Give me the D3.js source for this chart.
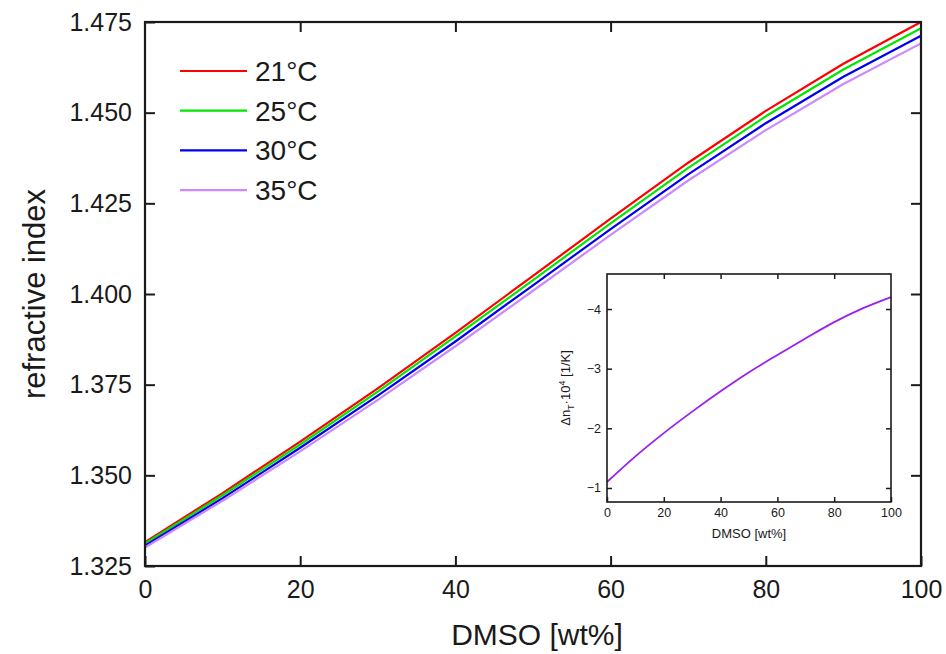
<!DOCTYPE html>
<html>
<head>
<meta charset="utf-8">
<script src="https://cdn.jsdelivr.net/npm/d3@7"></script>
<style>
  html, body { margin: 0; padding: 0; background: #fff; }
  svg { display: block; font-family: "Liberation Sans", Arial, sans-serif; }
</style>
</head>
<body>
<svg id="chart" width="946" height="654"></svg>
<script>
// DMSO content (wt%) at which the refractive index was evaluated
const dmso = [0, 10, 20, 30, 40, 50, 60, 70, 80, 90, 100];

// refractive index for each temperature
const n21 = [1.3316, 1.3451, 1.3593, 1.3740, 1.3893, 1.4050, 1.4208, 1.4362, 1.4505, 1.4635, 1.4750];
const n25 = [1.3312, 1.3445, 1.3585, 1.3731, 1.3883, 1.4038, 1.4195, 1.4348, 1.4490, 1.4619, 1.4733];
const n30 = [1.3306, 1.3437, 1.3576, 1.3720, 1.3869, 1.4024, 1.4179, 1.4330, 1.4471, 1.4599, 1.4712];
const n35 = [1.3301, 1.3430, 1.3566, 1.3708, 1.3856, 1.4009, 1.4163, 1.4313, 1.4452, 1.4579, 1.4691];

const seriesNames = ["21°C", "25°C", "30°C", "35°C"];
const seriesColors = ["#ff0000", "#00e600", "#0000ee", "#cc88ff"];

// thermo-optic coefficient dn/dT in units of 1e-4 1/K
const dnT = [-1.10, -1.53, -1.92, -2.28, -2.62, -2.94, -3.23, -3.51, -3.78, -4.01, -4.20];

// tick labels
const xTicks = [0, 20, 40, 60, 80, 100];
const yTicks = [1.325, 1.350, 1.375, 1.400, 1.425, 1.450, 1.475];
const insetYTicks = [-1, -2, -3, -4];

const svg = d3.select("#chart");
const ink = "#1a1a1a";

// ---------- main panel ----------
const M = { left: 145, right: 921, top: 22, bottom: 566 };
const x = d3.scaleLinear().domain([0, 100]).range([M.left, M.right]);
const y = d3.scaleLinear().domain([1.325, 1.475]).range([M.bottom, M.top]);

const main = svg.append("g");

const line = d3.line().x((d, i) => x(dmso[i])).y(d => y(d));
[n21, n25, n30, n35].forEach((s, k) => {
  main.append("path")
    .datum(s)
    .attr("d", line)
    .attr("fill", "none")
    .attr("stroke", seriesColors[k])
    .attr("stroke-width", 2.2)
    .attr("stroke-linejoin", "round");
});

// axes with inward ticks on all four sides
const tickLen = 10;
const bottomAxis = d3.axisBottom(x).tickValues(xTicks).tickFormat(d3.format("d"))
  .tickSizeInner(-tickLen).tickSizeOuter(0).tickPadding(14);
const topAxis = d3.axisTop(x).tickValues(xTicks.slice(1, -1)).tickFormat("")
  .tickSizeInner(-tickLen).tickSizeOuter(0);
const leftAxis = d3.axisLeft(y).tickValues(yTicks).tickFormat(d3.format(".3f"))
  .tickSizeInner(-tickLen).tickSizeOuter(0).tickPadding(13);
const rightAxis = d3.axisRight(y).tickValues(yTicks.slice(1, -1)).tickFormat("")
  .tickSizeInner(-tickLen).tickSizeOuter(0);

function styleAxis(g, fs) {
  g.select(".domain").remove();
  g.selectAll(".tick line").attr("stroke", ink).attr("stroke-width", 2);
  g.selectAll(".tick text").attr("fill", ink).attr("font-size", fs)
    .attr("font-family", "Liberation Sans, Arial, sans-serif");
}
main.append("g").attr("transform", `translate(0,${M.bottom})`).call(bottomAxis).call(g => styleAxis(g, 25));
main.append("g").attr("transform", `translate(0,${M.top})`).call(topAxis).call(g => styleAxis(g, 25));
main.append("g").attr("transform", `translate(${M.left},0)`).call(leftAxis).call(g => styleAxis(g, 25));
main.append("g").attr("transform", `translate(${M.right},0)`).call(rightAxis).call(g => styleAxis(g, 25));

main.append("rect")
  .attr("x", M.left).attr("y", M.top)
  .attr("width", M.right - M.left).attr("height", M.bottom - M.top)
  .attr("fill", "none").attr("stroke", ink).attr("stroke-width", 2.2);

main.append("text")
  .attr("x", (M.left + M.right) / 2 + 4).attr("y", 645)
  .attr("text-anchor", "middle").attr("font-size", 30).attr("fill", ink)
  .text("DMSO [wt%]");
main.append("text")
  .attr("transform", `translate(45,${(M.top + M.bottom) / 2}) rotate(-90)`)
  .attr("text-anchor", "middle").attr("font-size", 31).attr("fill", ink)
  .text("refractive index");

// legend
const legend = main.append("g");
seriesNames.forEach((name, k) => {
  const ly = 71 + k * 39.7;
  legend.append("line")
    .attr("x1", 180).attr("x2", 247).attr("y1", ly).attr("y2", ly)
    .attr("stroke", seriesColors[k]).attr("stroke-width", 2.2);
  legend.append("text")
    .attr("x", 255).attr("y", ly + 10)
    .attr("font-size", 28).attr("fill", ink)
    .text(name);
});

// ---------- inset panel ----------
const I = { left: 607, right: 891, top: 274, bottom: 502 };
const ix = d3.scaleLinear().domain([0, 100]).range([I.left, I.right]);
const iy = d3.scaleLinear().domain([-0.765, -4.587]).range([I.bottom, I.top]);

const inset = svg.append("g");
inset.append("rect")
  .attr("x", I.left).attr("y", I.top)
  .attr("width", I.right - I.left).attr("height", I.bottom - I.top)
  .attr("fill", "#fff");

inset.append("path")
  .datum(dnT)
  .attr("d", d3.line().x((d, i) => ix(dmso[i])).y(d => iy(d)).curve(d3.curveMonotoneX))
  .attr("fill", "none").attr("stroke", "#9b1ff0").attr("stroke-width", 1.8);

const iTick = 5;
inset.append("g").attr("transform", `translate(0,${I.bottom})`)
  .call(d3.axisBottom(ix).tickValues(xTicks).tickFormat(d3.format("d"))
    .tickSizeInner(-iTick).tickSizeOuter(0).tickPadding(6))
  .call(g => styleAxis(g, 12.5));
inset.append("g").attr("transform", `translate(0,${I.top})`)
  .call(d3.axisTop(ix).tickValues(xTicks.slice(1, -1)).tickFormat("")
    .tickSizeInner(-iTick).tickSizeOuter(0))
  .call(g => styleAxis(g, 12.5));
inset.append("g").attr("transform", `translate(${I.left},0)`)
  .call(d3.axisLeft(iy).tickValues(insetYTicks).tickFormat(d3.format("d"))
    .tickSizeInner(-iTick).tickSizeOuter(0).tickPadding(6))
  .call(g => styleAxis(g, 12.5));
inset.append("g").attr("transform", `translate(${I.right},0)`)
  .call(d3.axisRight(iy).tickValues(insetYTicks).tickFormat("")
    .tickSizeInner(-iTick).tickSizeOuter(0))
  .call(g => styleAxis(g, 12.5));
inset.selectAll(".tick line").attr("stroke-width", 1.5);

inset.append("rect")
  .attr("x", I.left).attr("y", I.top)
  .attr("width", I.right - I.left).attr("height", I.bottom - I.top)
  .attr("fill", "none").attr("stroke", ink).attr("stroke-width", 1.6);

inset.append("text")
  .attr("x", (I.left + I.right) / 2).attr("y", 538)
  .attr("text-anchor", "middle").attr("font-size", 13).attr("fill", ink)
  .text("DMSO [wt%]");

const ylab = inset.append("text")
  .attr("transform", `translate(570,${(I.top + I.bottom) / 2}) rotate(-90)`)
  .attr("text-anchor", "middle").attr("font-size", 13).attr("fill", ink);
ylab.append("tspan").text("Δn");
ylab.append("tspan").attr("font-size", 9).attr("dy", 4).text("T");
ylab.append("tspan").attr("dy", -4).text("·10");
ylab.append("tspan").attr("font-size", 9).attr("dy", -5).text("4");
ylab.append("tspan").attr("dy", 5).text(" [1/K]");
</script>
</body>
</html>
